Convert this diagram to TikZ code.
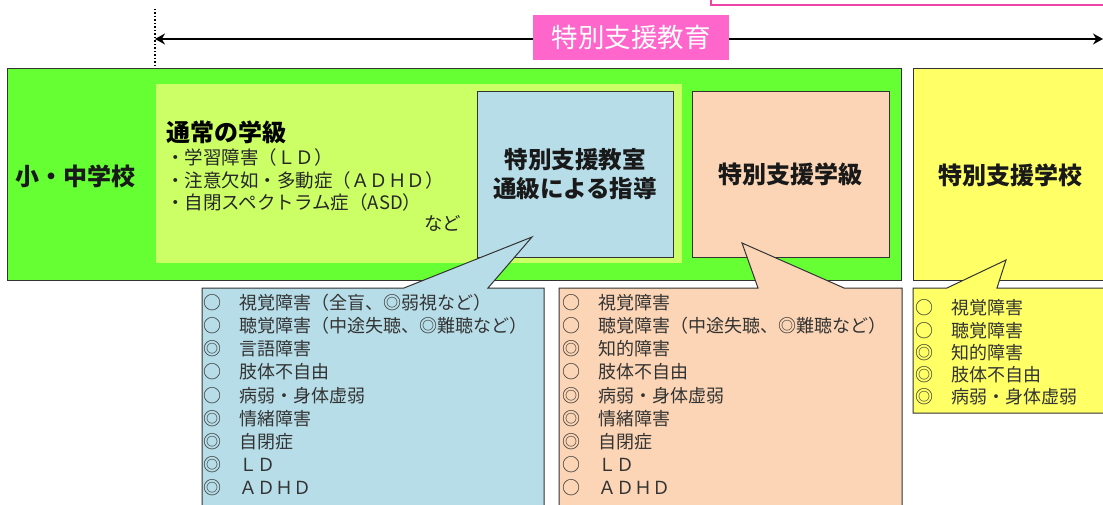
\documentclass[tikz,border=0pt]{standalone}
\usepackage{fontspec}
\setmainfont{Noto Sans CJK JP}
\usetikzlibrary{arrows.meta}

\definecolor{schoolgreen}{HTML}{66FF33}
\definecolor{classgreen}{HTML}{CCFF66}
\definecolor{roomblue}{HTML}{B7DDE8}
\definecolor{classorange}{HTML}{FBD5B5}
\definecolor{schoolyellow}{HTML}{FFFF66}
\definecolor{edupink}{HTML}{FF66CC}
\definecolor{edupinkline}{HTML}{EE44AA}
\definecolor{boxline}{HTML}{333333}

\tikzset{
  box/.style={draw=boxline, line width=1pt},
  title/.style={font=\fontsize{24}{29}\selectfont\bfseries, text=black!90, align=center, inner sep=0pt},
  item/.style={font=\fontsize{18}{23}\selectfont, text=black!80, anchor=west, inner sep=0pt},
  note/.style={font=\fontsize{18.5}{22}\selectfont, text=black!85, anchor=west, inner sep=0pt},
  tip/.style={line width=1.5pt, {Stealth[length=10pt,width=11pt]}-{Stealth[length=10pt,width=11pt]}}
}

\begin{document}
\begin{tikzpicture}[x=1pt,y=-1pt]
  \clip (0,0) rectangle (1103,505);
  \fill[white] (0,0) rectangle (1103,505);

  % pink frame at the top
  \draw[edupinkline, line width=2pt] (711,-10) rectangle (1120,5);

  % range of special support education
  \draw[dotted, line width=1.5pt] (155,9) -- (155,69);
  \coordinate (from) at (155,39);
  \coordinate (to) at (1103,39);
  \draw[tip] (from) -- (to);
  \node[fill=edupink, minimum width=196pt, minimum height=45pt, text=white,
        font=\fontsize{26.5}{30}\selectfont] (edu) at (631,37.5) {特別支援教育};

  % elementary / junior high school
  \filldraw[box, fill=schoolgreen] (7,69) rectangle (901,280);
  \fill[classgreen] (156,84) rectangle (682,263);
  \node[title] (sho) at (76,176) {小・中学校};

  \node[font=\fontsize{24}{28}\selectfont\bfseries, anchor=west, inner sep=0pt] (tsujo) at (166,132) {通常の学級};
  \node[note] (ld) at (166,157) {・学習障害（ＬＤ）};
  \node[note] (adhd) at (166,180) {・注意欠如・多動症（ＡＤＨＤ）};
  \node[note] (asd) at (166,202) {・自閉スペクトラム症（ASD）};
  \node[note] (nado) at (424,223) {など};

  \node[box, title, fill=roomblue, minimum width=196pt, minimum height=165pt,
        font=\fontsize{23.5}{29}\selectfont\bfseries] (tsukyu) at (575,174.5) {特別支援教室\\通級による指導};
  \node[box, title, fill=classorange, minimum width=197pt, minimum height=165pt] (kyu) at (790.5,174.5) {特別支援学級};

  % special support school
  \filldraw[box, fill=schoolyellow] (913,69) rectangle (1120,280);
  \node[title] (gakko) at (1010,175) {特別支援学校};

  % callouts
  \filldraw[box, fill=roomblue] (202,288) -- (404,288) -- (532,237) -- (488,288) -- (544,288)
    -- (544,515) -- (202,515) -- cycle;
  \filldraw[box, fill=classorange] (559,288) -- (758,288) -- (742,243) -- (844,288) -- (902,288)
    -- (902,515) -- (559,515) -- cycle;
  \filldraw[box, fill=schoolyellow] (913,288) -- (947,288) -- (1006,260) -- (997,288) -- (1120,288)
    -- (1120,413) -- (913,413) -- cycle;

  \foreach \t [count=\i] in {○　視覚障害（全盲、◎弱視など）, ○　聴覚障害（中途失聴、◎難聴など）,
      ◎　言語障害, ○　肢体不自由, ○　病弱・身体虚弱, ◎　情緒障害, ◎　自閉症, ◎　ＬＤ, ◎　ＡＤＨＤ}
    \node[item] (room-\i) at ({203},{302.5+23.2*(\i-1)}) {\t};

  \foreach \t [count=\i] in {○　視覚障害, ○　聴覚障害（中途失聴、◎難聴など）,
      ◎　知的障害, ○　肢体不自由, ◎　病弱・身体虚弱, ◎　情緒障害, ◎　自閉症, ○　ＬＤ, ○　ＡＤＨＤ}
    \node[item] (cls-\i) at ({562},{302.5+23.2*(\i-1)}) {\t};

  \foreach \t [count=\i] in {○　視覚障害, ○　聴覚障害, ◎　知的障害, ◎　肢体不自由, ◎　病弱・身体虚弱}
    \node[item] (sch-\i) at ({915},{308+22.25*(\i-1)}) {\t};
\end{tikzpicture}
\end{document}
